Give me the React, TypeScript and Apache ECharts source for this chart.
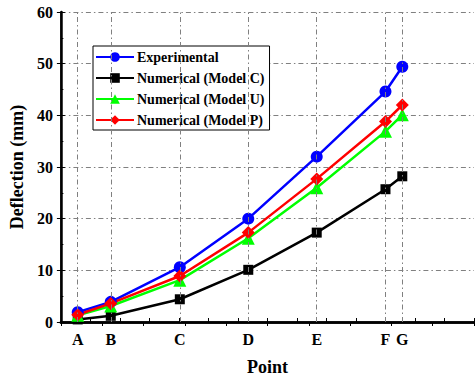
import React, { useEffect, useRef } from "react";
import * as echarts from "echarts";

const points = ["A", "B", "C", "D", "E", "F", "G"];
const pointPos = [0.57, 1.69, 4.03, 6.35, 8.67, 11.0, 11.57];
const experimental = [1.9, 3.9, 10.6, 20.0, 32.0, 44.6, 49.4];
const modelC = [0.5, 1.2, 4.4, 10.1, 17.3, 25.7, 28.2];
const modelU = [1.3, 3.1, 8.1, 16.2, 26.0, 36.9, 40.1];
const modelP = [1.4, 3.6, 8.9, 17.3, 27.7, 38.8, 42.0];
const yTicks = [0, 10, 20, 30, 40, 50, 60];

const FONT = "Times New Roman, Liberation Serif, DejaVu Serif, serif";

export default function App() {
  const ref = useRef<HTMLDivElement>(null);
  useEffect(() => {
    if (!ref.current) return;
    const chart = echarts.init(ref.current, undefined, { renderer: "svg" });
    const mk = (name: string, data: number[], color: string, symbol: string, size: number) => ({
      name,
      type: "line",
      data: pointPos.map((x, i) => [x, data[i]]),
      symbol,
      symbolSize: size,
      itemStyle: { color },
      lineStyle: { color, width: 2.5 },
      z: 3,
    });
    const grid = "#808080";
    const dash = [5, 3, 1.5, 3];
    chart.setOption({
      animation: false,
      backgroundColor: "#fff",
      textStyle: { fontFamily: FONT },
      grid: { left: 57, right: 1, top: 12, bottom: 58 },
      legend: {
        left: 93,
        top: 46,
        orient: "vertical",
        backgroundColor: "#fff",
        borderColor: "#000",
        borderWidth: 1,
        borderRadius: 0,
        padding: [4, 5, 3, 2],
        itemWidth: 38,
        itemHeight: 12,
        itemGap: 7,
        textStyle: { fontFamily: FONT, fontWeight: "bold", fontSize: 14, color: "#000", padding: [0, 0, 0, -2] },
        data: [
          "Experimental",
          "Numerical (Model C)",
          "Numerical (Model U)",
          "Numerical (Model P)",
        ],
      },
      xAxis: [
        {
          type: "value",
          min: 0,
          max: 14,
          interval: 1,
          position: "bottom",
          name: "Point",
          nameLocation: "middle",
          nameGap: 36,
          nameTextStyle: { fontFamily: FONT, fontWeight: "bold", fontSize: 18, color: "#000" },
          axisLine: { lineStyle: { color: "#000", width: 2.5 } },
          axisTick: { inside: true, length: 4, lineStyle: { color: "#000", width: 1 } },
          axisLabel: {
            customValues: pointPos,
            formatter: (v: number) => {
              const i = pointPos.findIndex((p) => Math.abs(p - v) < 1e-6);
              return i >= 0 ? points[i] : "";
            },
            fontFamily: FONT,
            fontWeight: "bold",
            fontSize: 16,
            color: "#000",
            margin: 9,
          },
          splitLine: { show: false },
        },
        {
          type: "value",
          min: 0,
          max: 10,
          interval: 1,
          position: "top",
          axisLine: { show: true, lineStyle: { color: "#000", width: 2.5 } },
          axisTick: { show: true, inside: true, length: 4, lineStyle: { color: "#000", width: 1 } },
          axisLabel: { show: false },
          splitLine: { show: false },
        },
      ],
      yAxis: [
        {
          type: "value",
          min: 0,
          max: 60,
          interval: 10,
          name: "Deflection (mm)",
          nameLocation: "middle",
          nameGap: 34,
          nameTextStyle: { fontFamily: FONT, fontWeight: "bold", fontSize: 18, color: "#000" },
          axisLine: { show: true, lineStyle: { color: "#000", width: 2.5 } },
          axisTick: { show: true, inside: true, length: 4, lineStyle: { color: "#000", width: 1 } },
          minorTick: { show: true, splitNumber: 2, length: 2.5, lineStyle: { color: "#000" } },
          axisLabel: {
            fontFamily: FONT,
            fontWeight: "bold",
            fontSize: 16,
            color: "#000",
            margin: 8,
            customValues: yTicks,
          },
          splitLine: {
            show: true,
            lineStyle: { color: grid, width: 1, type: dash },
          },
        },
        {
          type: "value",
          min: 0,
          max: 60,
          interval: 10,
          position: "right",
          axisLine: { show: true, lineStyle: { color: "#000", width: 1.5 } },
          axisTick: { show: true, inside: true, length: 4, lineStyle: { color: "#000", width: 1 } },
          axisLabel: { show: false },
          splitLine: { show: false },
        },
      ],
      series: [
        {
          type: "line",
          data: [],
          silent: true,
          markLine: {
            silent: true,
            symbol: "none",
            label: { show: false },
            lineStyle: { color: grid, width: 1, type: dash },
            data: pointPos.map((p) => ({ xAxis: p })),
          },
          z: 1,
        },
        mk("Experimental", experimental, "#0000ff", "circle", 12),
        mk("Numerical (Model C)", modelC, "#000000", "rect", 10),
        mk("Numerical (Model U)", modelU, "#00ff00", "triangle", 13),
        mk("Numerical (Model P)", modelP, "#ff0000", "diamond", 13),
      ],
    });
    return () => chart.dispose();
  }, []);
  return (
    <div
      ref={ref}
      style={{ position: "fixed", left: 0, top: 0, width: 475, height: 381 }}
    />
  );
}
